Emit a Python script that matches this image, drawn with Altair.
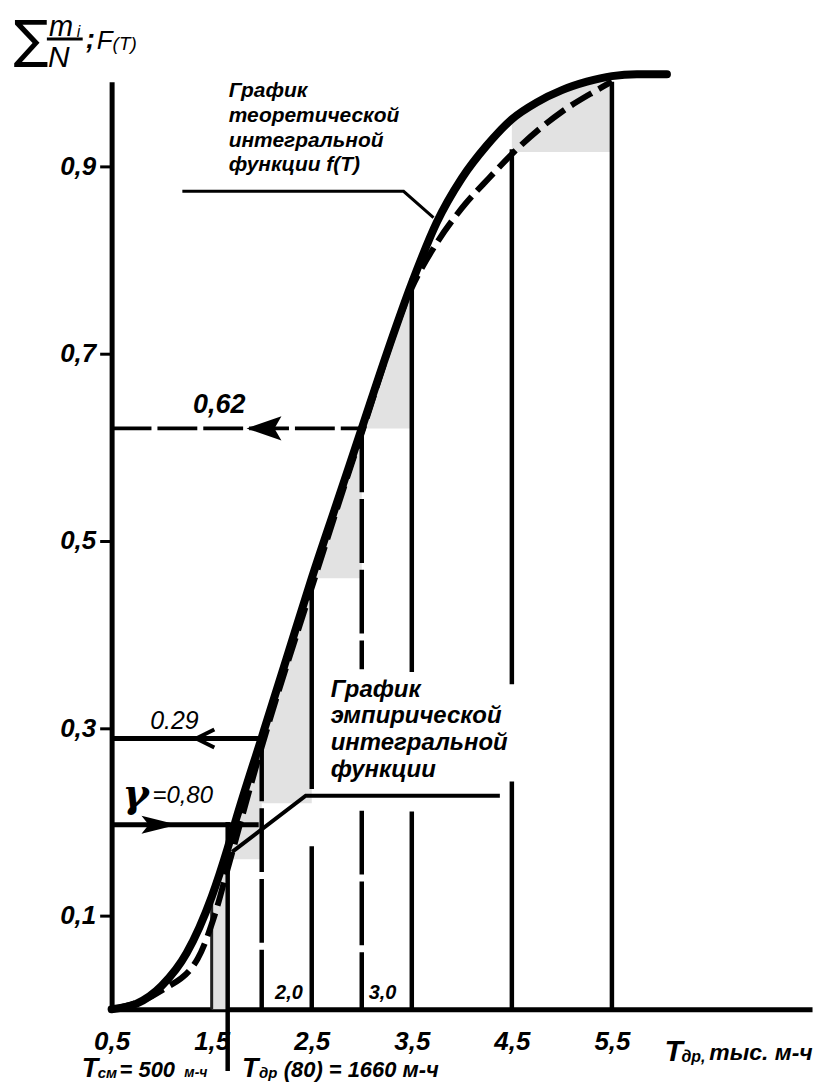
import altair as alt
import pandas as pd

FONT = "Liberation Sans"

# ---- data ----
# theoretical integral function F(T)
theo_T = [0.5, 0.75, 1.0, 1.25, 1.5, 1.66, 1.75, 2.0, 2.25, 2.5, 2.75, 3.0, 3.25, 3.5,
          3.75, 4.0, 4.25, 4.5, 4.75, 5.0, 5.25, 5.5, 5.75, 6.05]
theo_F = [0.0, 0.006, 0.025, 0.06, 0.12, 0.172, 0.205, 0.29, 0.375, 0.46, 0.54, 0.62, 0.70, 0.775,
          0.84, 0.887, 0.922, 0.95, 0.968, 0.981, 0.99, 0.996, 0.998, 0.998]

# empirical integral function sum(m_i/N)
emp_T = [0.5, 1.0, 1.36, 1.54, 1.66, 2.0, 2.5, 3.0, 3.5, 3.75, 4.0, 4.27, 4.57, 5.0, 5.3, 5.5]
emp_F = [0.0, 0.02, 0.054, 0.104, 0.15, 0.28, 0.45, 0.615, 0.77, 0.818, 0.855, 0.887, 0.92, 0.958,
         0.978, 0.99]

# shaded bands between curve and step levels
band_T0 = [1.5, 1.66, 2.0, 2.5, 3.0, 4.5]
band_T1 = [1.66, 2.0, 2.5, 3.0, 3.5, 5.5]
band_base = [0.0, 0.16, 0.22, 0.46, 0.62, 0.915]

# vertical ordinates (segments)
vr_T = [1.5, 1.66, 2.0, 2.5, 2.5, 3.0, 3.0, 3.5, 3.5, 4.5, 4.5, 5.5]
vr_top = [0.12, 0.2, 0.29, 0.458, 0.174, 0.62, 0.212, 0.78, 0.211, 0.918, 0.243, 0.99]
vr_bot = [0.0, -0.066, 0.0, 0.235, 0.0, 0.363, 0.0, 0.36, 0.0, 0.347, 0.0, 0.0]
vr_kind = ["thin", "solid", "dash", "solid", "solid", "dash", "dash", "solid", "solid", "solid", "solid", "solid"]

# horizontal read-off lines
hl_F = [0.62, 0.289, 0.197]
hl_T2 = [3.0, 2.0, 1.97]
hl_kind = ["dash", "solid", "solid"]

x_ticks = [0.5, 1.5, 2.5, 3.5, 4.5, 5.5]
y_ticks = [0.1, 0.3, 0.5, 0.7, 0.9]

# ---- scales / axes ----
xs = alt.Scale(domain=[0.5, 7.5], nice=False, zero=False)
ys = alt.Scale(domain=[0.0, 0.99], nice=False, zero=False)
xaxis = alt.Axis(values=x_ticks, labelExpr="replace(format(datum.value, '.1f'), '.', ',')",
                 ticks=False, grid=False, title=None, domainColor="black", domainWidth=5,
                 labelFont=FONT, labelFontSize=26, labelFontWeight="bold", labelFontStyle="italic",
                 labelColor="black", labelPadding=19, labelFlush=False, labelOverlap=False)
yaxis = alt.Axis(values=y_ticks, labelExpr="replace(format(datum.value, '.1f'), '.', ',')",
                 ticks=True, tickSize=12, tickWidth=3, tickColor="black", grid=False, title=None,
                 domainColor="black", domainWidth=5, labelFont=FONT, labelFontSize=26,
                 labelFontWeight="bold", labelFontStyle="italic", labelColor="black",
                 labelPadding=4, labelFlush=False, labelOverlap=False)


def X(f="T"):
    return alt.X(f + ":Q", scale=xs, axis=xaxis)


def Y(f="F"):
    return alt.Y(f + ":Q", scale=ys, axis=yaxis)


# ---- tables ----
theo = pd.DataFrame({"T": theo_T, "F": theo_F})
emp = pd.DataFrame({"T": emp_T, "F": emp_F})

band_rows = []
for i, (a, b, base) in enumerate(zip(band_T0, band_T1, band_base)):
    for t, f in zip(theo_T, theo_F):
        if a - 1e-9 <= t <= b + 1e-9:
            band_rows.append({"band": i, "T": t, "F": f, "B": base})
bands = pd.DataFrame(band_rows)

vr = pd.DataFrame({"T": vr_T, "F": vr_top, "F2": vr_bot, "kind": vr_kind})
hl = pd.DataFrame({"T": [0.5] * len(hl_F), "T2": hl_T2, "F": hl_F, "kind": hl_kind})

# ---- layers ----
area_layer = alt.Chart(bands).mark_area(color="#e2e2e2", interpolate="monotone").encode(
    x=X(), y=Y(), y2="B:Q", detail="band:N")

rule_solid = alt.Chart(vr).transform_filter("datum.kind == 'solid'").mark_rule(
    color="black", strokeWidth=4.5).encode(x=X(), y=Y(), y2="F2:Q")
rule_dash = alt.Chart(vr).transform_filter("datum.kind == 'dash'").mark_rule(
    color="black", strokeWidth=4.5, strokeDash=[64, 7]).encode(x=X(), y=Y(), y2="F2:Q")
rule_thin = alt.Chart(vr).transform_filter("datum.kind == 'thin'").mark_rule(
    color="#222", strokeWidth=3).encode(x=X(), y=Y(), y2="F2:Q")

h_solid = alt.Chart(hl).transform_filter("datum.kind == 'solid'").mark_rule(
    color="black", strokeWidth=5).encode(x=X(), x2="T2:Q", y=Y())
h_dash = alt.Chart(hl).transform_filter("datum.kind == 'dash'").mark_rule(
    color="black", strokeWidth=4, strokeDash=[40, 6]).encode(x=X(), x2="T2:Q", y=Y())

theo_line = alt.Chart(theo).mark_line(color="black", strokeWidth=8, interpolate="monotone",
                                      strokeCap="round").encode(x=X(), y=Y())
emp_line = alt.Chart(emp).mark_line(color="black", strokeWidth=6, interpolate="monotone",
                                    strokeDash=[24, 8]).encode(x=X(), y=Y())

# leader lines of captions
lead_theo = pd.DataFrame({"T": [1.207, 3.418, 3.717], "F": [0.873, 0.873, 0.845], "o": [0, 1, 2]})
lead_emp = pd.DataFrame({"T": [4.38, 2.44, 1.705], "F": [0.228, 0.228, 0.168], "o": [0, 1, 2]})
lead1 = alt.Chart(lead_theo).mark_line(color="black", strokeWidth=3).encode(
    x=X(), y=Y(), order="o:Q")
lead2 = alt.Chart(lead_emp).mark_line(color="black", strokeWidth=4).encode(
    x=X(), y=Y(), order="o:Q")

# arrow heads
arr62 = alt.Chart(pd.DataFrame({"T": [2.023], "F": [0.62]})).mark_point(
    shape="M -1 0 L 1 -0.7 L 0.6 0 L 1 0.7 Z", filled=True, color="black", size=1225, opacity=1
).encode(x=X(), y=Y())
arr29 = alt.Chart(pd.DataFrame({"T": [1.436], "F": [0.289]})).mark_point(
    shape="M 1 -1 L -1 0 L 1 1", filled=False, color="black", size=330, strokeWidth=4, opacity=1
).encode(x=X(), y=Y())
arr20 = alt.Chart(pd.DataFrame({"T": [0.978], "F": [0.197]})).mark_point(
    shape="M 1 0 L -1 -0.5 L -0.6 0 L -1 0.5 Z", filled=True, color="black", size=1300, opacity=1
).encode(x=X(), y=Y())


def label(txt, x, y, size, weight="bold", style="italic", align="left", baseline="middle",
          font=FONT, **kw):
    df = pd.DataFrame({"T": [x], "F": [y], "t": [txt]})
    return alt.Chart(df).mark_text(align=align, baseline=baseline, font=font, fontSize=size,
                                   fontWeight=weight, fontStyle=style, color="black", **kw).encode(
        x=X(), y=Y(), text="t:N")


texts = [
    label("График\nтеоретической\nинтегральной\nфункции f(T)", 1.67, 0.992, 21,
          baseline="top", lineBreak="\n", lineHeight=25),
    label("График\nэмпирической\nинтегральной\nфункции", 2.69, 0.354, 24,
          baseline="top", lineBreak="\n", lineHeight=27),
    label("0,62", 1.575, 0.6444, 27, align="center"),
    label("0.29", 1.127, 0.3073, 25, weight="normal", align="center"),
    label("γ", 0.739, 0.2286, 40, style="italic", align="center", font="DejaVu Serif"),
    label("=0,80", 0.908, 0.2276, 24, weight="normal"),
    label("2,0", 2.272, 0.017, 20, align="center"),
    label("3,0", 3.208, 0.017, 20, align="center"),
    # bottom notes
    label("T", 0.2013, -0.0723, 27, baseline="alphabetic"),
    label("см", 0.3606, -0.0734, 15, baseline="alphabetic"),
    label("= 500", 0.58, -0.0723, 22, baseline="alphabetic"),
    label("м-ч", 1.227, -0.0723, 14, baseline="alphabetic"),
    label("T", 1.804, -0.0723, 27, baseline="alphabetic"),
    label("др", 1.974, -0.0734, 15, baseline="alphabetic"),
    label("(80) = 1660 м-ч", 2.22, -0.0723, 22, baseline="alphabetic"),
    # x axis title
    label("T", 6.026, -0.0553, 30, baseline="alphabetic"),
    label("др,", 6.195, -0.0564, 16, baseline="alphabetic"),
    label("тыс. м-ч", 6.474, -0.0542, 23, baseline="alphabetic"),
    # y axis title
    label("∑", -0.3066, 1.0336, 52, weight="normal", style="normal", align="center",
          font="DejaVu Sans"),
    label("m", -0.127, 1.039, 29, weight="normal", baseline="alphabetic"),
    label("i", 0.1515, 1.038, 16, weight="normal", baseline="alphabetic"),
    label("N", -0.137, 1.006, 30, weight="normal", baseline="alphabetic"),
    label(";", 0.241, 1.026, 28, baseline="alphabetic"),
    label("F", 0.351, 1.025, 26, weight="normal", baseline="alphabetic"),
    label("(T)", 0.510, 1.024, 19, weight="normal", baseline="alphabetic"),
]

frac = alt.Chart(pd.DataFrame({"T": [-0.147], "T2": [0.211], "F": [1.0357]})).mark_rule(
    color="black", strokeWidth=3).encode(x=X(), x2="T2:Q", y=Y())

chart = alt.layer(
    area_layer, rule_thin, rule_solid, rule_dash, h_solid, h_dash,
    emp_line, theo_line, lead1, lead2, arr62, arr29, arr20, frac, *texts
).properties(
    width=703, height=931,
    padding={"left": 104, "top": 72, "right": 8, "bottom": 71},
    autosize=alt.AutoSizeParams(type="none"),
    background="white",
).configure_view(stroke=None)

chart.save("out.html", embed_options={"renderer": "svg", "actions": False})
